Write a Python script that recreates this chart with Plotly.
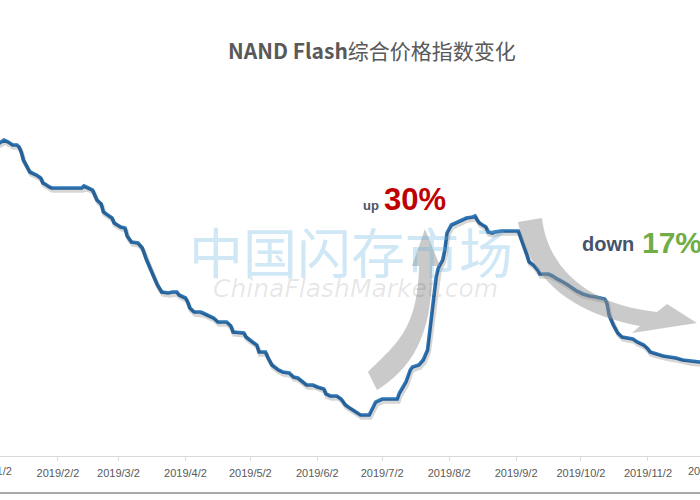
import plotly.graph_objects as go
import pandas as pd

# ---------------- data ----------------
dates = [
    "2019-01-02", "2019-01-06", "2019-01-08", "2019-01-10", "2019-01-12", "2019-01-14",
    "2019-01-15", "2019-01-16", "2019-01-17", "2019-01-19", "2019-01-20", "2019-01-23",
    "2019-01-25", "2019-01-26", "2019-01-27", "2019-01-29", "2019-01-30", "2019-02-13",
    "2019-02-14", "2019-02-16", "2019-02-18", "2019-02-19", "2019-02-20", "2019-02-22",
    "2019-02-23", "2019-02-25", "2019-02-27", "2019-02-28", "2019-03-03", "2019-03-05",
    "2019-03-06", "2019-03-08", "2019-03-11", "2019-03-13", "2019-03-15", "2019-03-18",
    "2019-03-20", "2019-03-22", "2019-03-25", "2019-03-27", "2019-03-29", "2019-03-30",
    "2019-04-02", "2019-04-03", "2019-04-04", "2019-04-06", "2019-04-09", "2019-04-10",
    "2019-04-12", "2019-04-15", "2019-04-17", "2019-04-21", "2019-04-23", "2019-04-24",
    "2019-04-29", "2019-04-30", "2019-05-03", "2019-05-05", "2019-05-06", "2019-05-09",
    "2019-05-10", "2019-05-12", "2019-05-15", "2019-05-17", "2019-05-20", "2019-05-22",
    "2019-05-24", "2019-05-26", "2019-05-28", "2019-05-31", "2019-06-02", "2019-06-05",
    "2019-06-06", "2019-06-08", "2019-06-11", "2019-06-13", "2019-06-15", "2019-06-17",
    "2019-06-20", "2019-06-22", "2019-06-26", "2019-06-28", "2019-06-29", "2019-07-02",
    "2019-07-09", "2019-07-10", "2019-07-13", "2019-07-15", "2019-07-16", "2019-07-19",
    "2019-07-21", "2019-07-23", "2019-07-24", "2019-07-26", "2019-07-27", "2019-07-28",
    "2019-07-30", "2019-07-31", "2019-08-01", "2019-08-03", "2019-08-06", "2019-08-08",
    "2019-08-10", "2019-08-13", "2019-08-14", "2019-08-15", "2019-08-16", "2019-08-19",
    "2019-08-20", "2019-08-22", "2019-08-23", "2019-08-26", "2019-09-03", "2019-09-04",
    "2019-09-06", "2019-09-07", "2019-09-08", "2019-09-10", "2019-09-12", "2019-09-13",
    "2019-09-17", "2019-09-19", "2019-09-21", "2019-09-23", "2019-09-26", "2019-09-28",
    "2019-09-30", "2019-10-03", "2019-10-06", "2019-10-09", "2019-10-13", "2019-10-14",
    "2019-10-15", "2019-10-17", "2019-10-19", "2019-10-21", "2019-10-23", "2019-10-26",
    "2019-10-28", "2019-10-31", "2019-11-02", "2019-11-03", "2019-11-06", "2019-11-09",
    "2019-11-12", "2019-11-15", "2019-11-18", "2019-11-21", "2019-11-25", "2019-11-26",
    "2019-12-02",
]
index_values = [
    940, 939, 942, 940, 937, 937,
    935, 930, 922, 914, 910, 907,
    904, 899, 898, 895, 894, 894,
    896, 894, 892, 887, 882, 878,
    870, 867, 864, 859, 855, 854,
    846, 840, 839, 834, 822, 807,
    797, 790, 789, 790, 790, 787,
    784, 780, 774, 770, 770, 769,
    767, 764, 760, 760, 756, 750,
    749, 745, 740, 737, 730, 730,
    725, 717, 712, 710, 709, 705,
    704, 700, 697, 697, 695, 693,
    688, 686, 686, 683, 677, 674,
    670, 667, 667, 675, 680, 683,
    683, 689, 700, 712, 715, 717,
    722, 732, 749, 782, 805, 814,
    822, 832, 849, 857, 860, 862,
    864, 865, 866, 862, 859, 855,
    850, 849, 850, 851, 851, 845,
    834, 827, 820, 817, 812, 808,
    808, 806, 803, 801, 797, 794,
    791, 788, 786, 785, 783, 779,
    767, 757, 749, 745, 744, 743,
    740, 737, 733, 730, 728, 726,
    725, 724, 722, 721, 720, 720,
    719,
]
tick_dates = [
    "2019-01-02", "2019-02-02", "2019-03-02", "2019-04-02", "2019-05-02", "2019-06-02",
    "2019-07-02", "2019-08-02", "2019-09-02", "2019-10-02", "2019-11-02", "2019-12-02",
]
tick_labels = [
    "2019/1/2", "2019/2/2", "2019/3/2", "2019/4/2", "2019/5/2", "2019/6/2",
    "2019/7/2", "2019/8/2", "2019/9/2", "2019/10/2", "2019/11/2", "2019/12/2",
]
title_text = "<b>NAND Flash</b>综合价格指数变化"

# ---------------- layout geometry ----------------
W, H = 700, 500
PLOT_BOTTOM = 456  # pixel row of the x axis line
X_RANGE = [pd.Timestamp("2019-01-06 04:00"), pd.Timestamp("2019-11-26 02:00")]
Y_RANGE = [626, 1082]

def px(x):
    return x / W

def py(y):
    return (PLOT_BOTTOM - y) / PLOT_BOTTOM

def date_frac(d):
    d = pd.Timestamp(d)
    return (d - X_RANGE[0]) / (X_RANGE[1] - X_RANGE[0])

# shadow offset (in pixels)
px_per_day = W / ((X_RANGE[1] - X_RANGE[0]) / pd.Timedelta(days=1))
shift_x = pd.Timedelta(days=1.2 / px_per_day)
shift_y = 2.5

fig = go.Figure()
fig.add_trace(go.Scatter(
    x=dates, y=index_values, xaxis="x2", yaxis="y2", mode="lines",
    line=dict(color="rgba(0,0,0,0.16)", width=4.5), hoverinfo="skip", showlegend=False,
))
fig.add_trace(go.Scatter(
    x=dates, y=index_values, mode="lines",
    line=dict(color="#2E75B6", width=3.6), showlegend=False,
))

inside = [(d, t) for d, t in zip(tick_dates, tick_labels) if 0 <= date_frac(d) <= 1]
outside = [(d, t) for d, t in zip(tick_dates, tick_labels) if not 0 <= date_frac(d) <= 1]

fig.update_layout(
    width=W, height=H,
    margin=dict(l=0, r=0, t=0, b=H - PLOT_BOTTOM, pad=0),
    paper_bgcolor="white", plot_bgcolor="white",
    xaxis=dict(
        type="date", range=[X_RANGE[0], X_RANGE[1]],
        tickvals=[d for d, _ in inside], ticktext=[t for _, t in inside],
        showgrid=False, zeroline=False,
        showline=True, linecolor="#D9D9D9", linewidth=1,
        ticks="outside", ticklen=4, tickcolor="#D9D9D9",
        tickfont=dict(family="Liberation Sans", size=11, color="#595959"),
        ticklabelstandoff=3,
    ),
    yaxis=dict(range=Y_RANGE, visible=False),
    xaxis2=dict(type="date", range=[X_RANGE[0] - shift_x, X_RANGE[1] - shift_x],
                overlaying="x", visible=False),
    yaxis2=dict(range=[Y_RANGE[0] + shift_y, Y_RANGE[1] + shift_y],
                overlaying="y", visible=False),
)

annotations = []
# partially visible edge tick labels
for d, t in outside:
    annotations.append(dict(
        x=date_frac(d), y=py(471), xref="paper", yref="paper", text=t, showarrow=False,
        xanchor="center", yanchor="middle",
        font=dict(family="Liberation Sans", size=11, color="#595959"),
    ))

# watermark
annotations.append(dict(
    x=px(351), y=py(250), xref="paper", yref="paper", text="中国闪存市场",
    showarrow=False, xanchor="center", yanchor="middle",
    font=dict(family="Noto Sans CJK SC", size=54, color="rgba(100,175,225,0.30)", weight=400),
))
annotations.append(dict(
    x=px(355), y=py(288), xref="paper", yref="paper", text="ChinaFlashMarket.com",
    showarrow=False, xanchor="center", yanchor="middle",
    font=dict(family="DejaVu Sans", size=25, color="rgba(0,0,0,0.10)", style="italic"),
))

# title
annotations.append(dict(
    x=px(372), y=py(50), xref="paper", yref="paper", text=title_text,
    showarrow=False, xanchor="center", yanchor="middle",
    font=dict(family="Noto Sans CJK SC", size=21, color="#595959"),
))

# up / down labels
annotations += [
    dict(x=px(362), y=py(206), xref="paper", yref="paper", text="<b>up</b>", showarrow=False,
         xanchor="left", yanchor="middle", borderpad=0,
         font=dict(family="Liberation Sans", size=13, color="#44546A")),
    dict(x=px(383), y=py(199), xref="paper", yref="paper", text="<b>30%</b>", showarrow=False,
         xanchor="left", yanchor="middle", borderpad=0,
         font=dict(family="Liberation Sans", size=31, color="#C00000")),
    dict(x=px(581), y=py(244), xref="paper", yref="paper", text="<b>down</b>", showarrow=False,
         xanchor="left", yanchor="middle", borderpad=0,
         font=dict(family="Liberation Sans", size=20, color="#44546A")),
    dict(x=px(641), y=py(242), xref="paper", yref="paper", text="<b>17%</b>", showarrow=False,
         xanchor="left", yanchor="middle", borderpad=0,
         font=dict(family="Liberation Sans", size=30, color="#70AD47")),
]
fig.update_layout(annotations=annotations)

# ---------------- decorative arrows ----------------
def P(x, y):
    return f"{px(x):.5f},{py(y):.5f}"

up_arrow = (
    f"M {P(368, 372)} C {P(395, 345)} {P(418, 330)} {P(419, 266)} "
    f"L {P(412, 266)} L {P(425, 229)} L {P(440, 266)} L {P(432, 266)} "
    f"C {P(433, 335)} {P(412, 368)} {P(377, 390)} Z"
)
down_arrow = (
    f"M {P(518, 222)} L {P(542, 218)} "
    f"C {P(548, 270)} {P(590, 305)} {P(657, 312)} "
    f"L {P(667, 304)} L {P(697, 323)} L {P(632, 333)} L {P(640, 326)} "
    f"C {P(580, 315)} {P(530, 285)} {P(518, 222)} Z"
)
shapes = []
for path in (up_arrow, down_arrow):
    shapes.append(dict(type="path", path=path, xref="paper", yref="paper",
                       fillcolor="rgba(150,150,150,0.5)", line=dict(width=0), layer="above"))
# bottom frame line
shapes.append(dict(type="line", xref="paper", yref="paper", x0=0, x1=1, y0=py(493), y1=py(493),
                   line=dict(color="#8C8C8C", width=1.5)))
fig.update_layout(shapes=shapes)

fig.write_html("out.html")
